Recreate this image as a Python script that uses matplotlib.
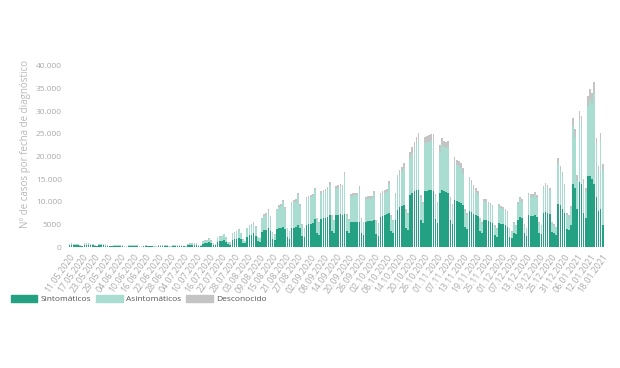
import matplotlib
matplotlib.use("Agg")
import matplotlib.pyplot as plt
import matplotlib.patches as mpatches
import numpy as np
import pandas as pd

fechas = pd.date_range("2020-05-11", "2021-01-18", freq="D")

sintomaticos = [
    420, 450, 400, 390, 360, 200, 170,
    430, 460, 430, 400, 380, 190, 160,
    350, 380, 350, 320, 300, 160, 140,
    240, 270, 240, 240, 220, 110, 100,
    210, 220, 210, 200, 190, 100, 80,
    160, 190, 180, 170, 160, 80, 70,
    190, 200, 200, 200, 190, 100, 80,
    240, 270, 260, 250, 240, 140, 110,
    380, 430, 460, 490, 430, 240, 220,
    700, 800, 850, 1000, 800, 450, 400,
    1150, 1250, 1300, 1500, 1200, 650, 550,
    1600, 1750, 1850, 2050, 1700, 950, 800,
    2300, 2550, 2650, 3000, 2500, 1300, 1100,
    3300, 3700, 3800, 4200, 3500, 1800, 1500,
    3900, 4200, 4300, 4500, 4000, 2200, 1800,
    4200, 4300, 4400, 4850, 4100, 2400, 2100,
    4850, 5000, 5100, 5300, 6100, 3000, 2600,
    6200, 6300, 6400, 6600, 7100, 3500, 3000,
    7000, 7100, 7200, 7100, 7300, 3600, 3100,
    5500, 5500, 5600, 5600, 5600, 3000, 2600,
    5600, 5700, 5700, 5700, 5900, 2900, 2500,
    6600, 6800, 7000, 7200, 7600, 3600, 3100,
    6000, 8200, 8800, 9100, 9300, 4300, 3800,
    11500, 12000, 12400, 12600, 12600, 6000, 5200,
    12300, 12400, 12500, 12500, 12400, 6200, 5300,
    12000, 12500, 12400, 12200, 12000, 6000, 5000,
    10400, 10200, 10000, 9800, 9300, 4500, 4000,
    8000, 7800, 7400, 7100, 6800, 3500, 3000,
    6000, 5900, 5700, 5600, 5300, 2700, 2300,
    5300, 5100, 5000, 4800, 4500, 2300, 1900,
    3200, 2800, 6000, 6700, 6300, 3000, 2500,
    7000, 6900, 6900, 7100, 6700, 3200, 2800,
    7500, 7800, 7600, 7200, 3300, 3000, 2700,
    9600, 9200, 8500, 7500, 4000, 3800, 4800,
    13900, 13000, 8500, 14400, 14000, 7500, 6500,
    15700, 15700, 15000, 13900, 11000, 8000, 8400,
    4900,
]

asintomaticos = [
    290, 310, 260, 270, 260, 130, 110,
    330, 350, 330, 310, 290, 140, 120,
    270, 290, 270, 250, 220, 120, 100,
    190, 210, 190, 190, 160, 80, 70,
    170, 180, 170, 160, 140, 70, 60,
    130, 140, 130, 130, 130, 60, 50,
    140, 160, 160, 150, 140, 70, 60,
    190, 200, 200, 200, 190, 100, 80,
    290, 330, 350, 370, 330, 190, 160,
    540, 630, 670, 810, 630, 310, 270,
    950, 1040, 1090, 1270, 1000, 500, 400,
    1270, 1400, 1500, 1680, 1360, 670, 540,
    1800, 2030, 2130, 2350, 1990, 900, 810,
    2900, 3180, 3360, 3720, 3000, 1350, 1170,
    4220, 4590, 4780, 5430, 4410, 1910, 1540,
    5350, 5540, 5630, 6610, 4970, 2380, 2010,
    5650, 5790, 5880, 5970, 6400, 3210, 2650,
    5550, 5730, 5920, 6000, 6550, 3180, 2730,
    5900, 5980, 6070, 6080, 8550, 3270, 2820,
    5750, 5850, 5840, 5840, 7280, 3200, 2650,
    4900, 4980, 4980, 5080, 5930, 2820, 2460,
    4850, 4930, 4920, 5010, 6320, 3080, 2620,
    5300, 6900, 7200, 7550, 8100, 3700, 3250,
    8200, 8650, 9500, 10150, 11000, 4800, 4200,
    10650, 10650, 10700, 11000, 11100, 4900, 4100,
    9100, 10050, 9700, 9600, 10100, 4350, 3950,
    8400, 7850, 7800, 7600, 7150, 3500, 3050,
    6600, 6050, 5500, 5150, 4900, 2620, 2180,
    4100, 4000, 3730, 3640, 3470, 1820, 1660,
    3700, 3420, 3330, 3250, 3080, 1670, 1410,
    2000, 1750, 3450, 3800, 3630, 1730, 1570,
    4400, 4220, 4220, 4490, 4230, 2020, 1760,
    5250, 5700, 5520, 5150, 1920, 1750, 1580,
    9000, 7850, 7150, 5750, 3100, 2820, 3720,
    12800, 11300, 6400, 13700, 13100, 6500, 5650,
    15500, 17000, 16800, 20100, 11500, 8800, 15200,
    12200,
]

desconocido = [
    40, 40, 40, 40, 30, 20, 20,
    40, 40, 40, 40, 30, 20, 20,
    30, 30, 30, 30, 30, 20, 10,
    20, 20, 20, 20, 20, 10, 10,
    20, 20, 20, 20, 20, 10, 10,
    10, 20, 20, 20, 10, 10, 10,
    20, 20, 20, 20, 20, 10, 10,
    20, 30, 20, 20, 20, 10, 10,
    30, 40, 40, 40, 40, 20, 20,
    60, 70, 80, 90, 70, 40, 30,
    100, 110, 110, 130, 100, 50, 50,
    130, 150, 150, 170, 140, 80, 60,
    200, 220, 220, 250, 210, 100, 90,
    300, 320, 340, 380, 300, 150, 130,
    380, 410, 420, 470, 390, 190, 160,
    450, 460, 470, 540, 430, 220, 190,
    500, 510, 520, 530, 600, 290, 250,
    550, 570, 580, 600, 650, 320, 270,
    600, 620, 630, 620, 750, 330, 280,
    550, 550, 560, 560, 620, 300, 250,
    500, 520, 520, 520, 570, 280, 240,
    550, 570, 580, 590, 680, 320, 280,
    700, 900, 1000, 1050, 1100, 500, 450,
    1300, 1350, 1400, 1450, 1500, 700, 600,
    1450, 1450, 1500, 1500, 1500, 700, 600,
    1400, 1450, 1400, 1400, 1400, 650, 550,
    1200, 1150, 1100, 1100, 1050, 500, 450,
    900, 850, 800, 750, 700, 380, 320,
    600, 600, 570, 560, 530, 280, 240,
    500, 480, 470, 450, 420, 230, 190,
    300, 250, 550, 600, 570, 270, 230,
    600, 580, 580, 610, 570, 280, 240,
    650, 700, 680, 650, 280, 250, 220,
    1000, 950, 850, 750, 400, 380, 480,
    1900, 1700, 1100, 2000, 1900, 1000, 850,
    2200, 2300, 2200, 2400, 1500, 1200, 1700,
    1200,
]

yticks = [0, 5000, 10000, 15000, 20000, 25000, 30000, 35000, 40000]
ytick_labels = ["0", "5000", "10.000", "15.000", "20.000", "25.000", "30.000", "35.000", "40.000"]
series_names = ["Sintomáticos", "Asintomáticos", "Desconocido"]
colors = ["#24a082", "#a9ddd1", "#c4c4c4"]

n = len(fechas)
assert len(sintomaticos) == n and len(asintomaticos) == n and len(desconocido) == n

S = np.array(sintomaticos)
A = np.array(asintomaticos)
U = np.array(desconocido)
x = np.arange(n)

plt.rcParams["font.family"] = ["Open Sans", "DejaVu Sans"]
fig = plt.figure(figsize=(6.2, 3.68), dpi=100)
ax = fig.add_axes([67.4 / 620, 121 / 368, (604.8 - 67.4) / 620, 181 / 368])

w = 0.78
ax.bar(x, S, width=w, color=colors[0], linewidth=0)
ax.bar(x, A, width=w, bottom=S, color=colors[1], linewidth=0)
ax.bar(x, U, width=w, bottom=S + A, color=colors[2], linewidth=0)

ax.set_xlim(-1, 253)
ax.set_ylim(0, 40000)
ax.set_yticks(yticks)
ax.set_yticklabels(ytick_labels, fontsize=6, color="#aaaaaa")

tick_idx = x[::6]
ax.set_xticks(tick_idx)
ax.set_xticklabels([fechas[i].strftime("%d.%m.%Y") for i in tick_idx],
                   rotation=55, ha="right", rotation_mode="anchor",
                   fontsize=6.3, color="#aaaaaa")
ax.tick_params(axis="x", length=0, pad=4)
ax.tick_params(axis="y", length=0, pad=4)
for s in ax.spines.values():
    s.set_visible(False)

ax.set_ylabel("Nº de casos por fecha de diagnóstico", fontsize=7, color="#b8b8b8")
ax.yaxis.set_label_coords(-0.068, 0.57)

handles = [mpatches.Patch(color=c, label=l) for c, l in zip(colors, series_names)]
fig.legend(handles=handles, loc="center left", bbox_to_anchor=(0.005, 0.187), ncol=3,
           frameon=False, fontsize=6, handlelength=3.2, handleheight=0.9,
           handletextpad=0.4, columnspacing=0.6, labelcolor="#555555")

fig.savefig("out.png", dpi=100, facecolor="white")
